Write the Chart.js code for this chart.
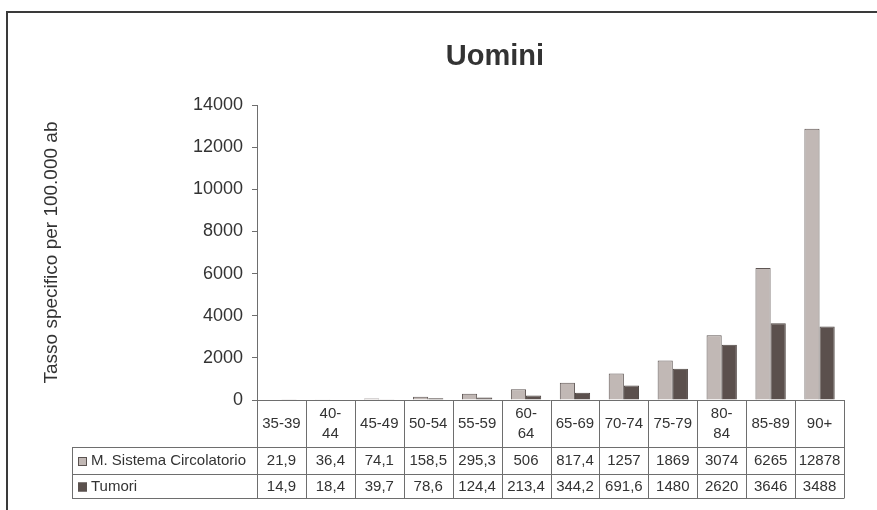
<!DOCTYPE html>
<html>
<head>
<meta charset="utf-8">
<script src="https://cdn.jsdelivr.net/npm/chart.js@4/dist/chart.umd.min.js"></script>
<style>
  html, body { margin: 0; padding: 0; background: #ffffff; }
  #wrap { width: 877px; height: 510px; position: relative; }
</style>
</head>
<body>
<div id="wrap"><canvas id="c" width="877" height="510"></canvas></div>
<script>
// ---- Data ----
const chartTitle = 'Uomini';
const yAxisTitle = 'Tasso specifico per 100.000 ab';
const categories = ['35-39', ['40-', '44'], '45-49', '50-54', '55-59', ['60-', '64'], '65-69', '70-74', '75-79', ['80-', '84'], '85-89', '90+'];
const seriesNames = ['M. Sistema Circolatorio', 'Tumori'];
const circolatorio = [21.9, 36.4, 74.1, 158.5, 295.3, 506, 817.4, 1257, 1869, 3074, 6265, 12878];
const tumori = [14.9, 18.4, 39.7, 78.6, 124.4, 213.4, 344.2, 691.6, 1480, 2620, 3646, 3488];
const yMin = 0, yMax = 14000, yStep = 2000;

const FONT = "'Liberation Sans', Arial, Helvetica, sans-serif";
const colors = ['#c1b8b5', '#5b504d'];
const borderCols = ['#5f5654', '#4e4542'];
const TEXT = '#333333';

function fmt(v) { return String(v).replace('.', ','); }

const framePlugin = {
  id: 'frame',
  beforeDraw(chart) {
    const ctx = chart.ctx;
    ctx.save();
    ctx.fillStyle = '#ffffff';
    ctx.fillRect(0, 0, chart.width, chart.height);
    ctx.strokeStyle = '#3a3a3a';
    ctx.lineWidth = 2;
    ctx.strokeRect(7, 12, 900, 600);
    // Title
    ctx.fillStyle = TEXT;
    ctx.font = 'bold 29px ' + FONT;
    ctx.textAlign = 'center';
    ctx.textBaseline = 'alphabetic';
    ctx.fillText(chartTitle, 495, 65);
    ctx.restore();
  }
};

const tablePlugin = {
  id: 'dataTable',
  afterDraw(chart) {
    const ctx = chart.ctx;
    const ca = chart.chartArea;
    const xs = chart.scales.x;
    const n = categories.length;
    const colW = (ca.right - ca.left) / n;
    const top = ca.bottom;
    const hdrBottom = top + 47;
    const r1Bottom = hdrBottom + 27;
    const r2Bottom = r1Bottom + 24;
    const legLeft = 72;
    ctx.save();
    ctx.strokeStyle = '#6e6e6e';
    ctx.lineWidth = 1;
    ctx.beginPath();
    ctx.moveTo(ca.left, top + 0.5); ctx.lineTo(ca.right, top + 0.5);
    [hdrBottom, r1Bottom, r2Bottom].forEach(y => {
      ctx.moveTo(legLeft, y + 0.5); ctx.lineTo(ca.right, y + 0.5);
    });
    ctx.moveTo(legLeft + 0.5, hdrBottom); ctx.lineTo(legLeft + 0.5, r2Bottom + 0.5);
    for (let i = 0; i <= n; i++) {
      const x = Math.round(ca.left + i * colW) + 0.5;
      ctx.moveTo(x, top); ctx.lineTo(x, r2Bottom + 0.5);
    }
    ctx.stroke();

    ctx.fillStyle = TEXT;
    ctx.font = '15px ' + FONT;
    ctx.textAlign = 'center';
    ctx.textBaseline = 'middle';
    for (let i = 0; i < n; i++) {
      const cx = xs.getPixelForValue(i);
      const lab = categories[i];
      if (Array.isArray(lab)) {
        ctx.fillText(lab[0], cx, top + 14);
        ctx.fillText(lab[1], cx, top + 34);
      } else {
        ctx.fillText(lab, cx, top + 24);
      }
      ctx.fillText(fmt(circolatorio[i]), cx, hdrBottom + 14);
      ctx.fillText(fmt(tumori[i]), cx, r1Bottom + 12.5);
    }
    ctx.textAlign = 'left';
    const rowsY = [hdrBottom + 14, r1Bottom + 12.5];
    for (let s = 0; s < 2; s++) {
      const y = rowsY[s];
      ctx.fillStyle = colors[s];
      ctx.fillRect(78, y - 4, 9, 9);
      ctx.strokeStyle = '#5a5250';
      ctx.strokeRect(78.5, y - 3.5, 8, 8);
      ctx.fillStyle = TEXT;
      ctx.fillText(seriesNames[s], 91, y);
    }
    ctx.restore();
  }
};

new Chart(document.getElementById('c'), {
  type: 'bar',
  data: {
    labels: categories,
    datasets: [
      { label: seriesNames[0], data: circolatorio, backgroundColor: colors[0], borderColor: borderCols[0], borderWidth: 1 },
      { label: seriesNames[1], data: tumori, backgroundColor: colors[1], borderColor: borderCols[1], borderWidth: 1 }
    ]
  },
  options: {
    responsive: false,
    animation: false,
    devicePixelRatio: 1,
    layout: { padding: { left: 40, right: 33, top: 105, bottom: 110 } },
    datasets: { bar: { categoryPercentage: 0.62, barPercentage: 1.0 } },
    plugins: {
      legend: { display: false },
      title: { display: false },
      tooltip: { enabled: false }
    },
    scales: {
      x: { display: false },
      y: {
        min: yMin, max: yMax,
        ticks: { stepSize: yStep, color: TEXT, font: { family: FONT, size: 18 }, padding: 9,
                 callback: (v) => String(v) },
        grid: { drawOnChartArea: false, drawTicks: true, tickLength: 5, color: '#6e6e6e' },
        border: { color: '#6e6e6e' },
        title: { display: true, text: yAxisTitle, color: TEXT, font: { family: FONT, size: 19 }, padding: 0 },
        afterFit(scale) { scale.width = 217; }
      }
    }
  },
  plugins: [framePlugin, tablePlugin]
});
</script>
</body>
</html>
